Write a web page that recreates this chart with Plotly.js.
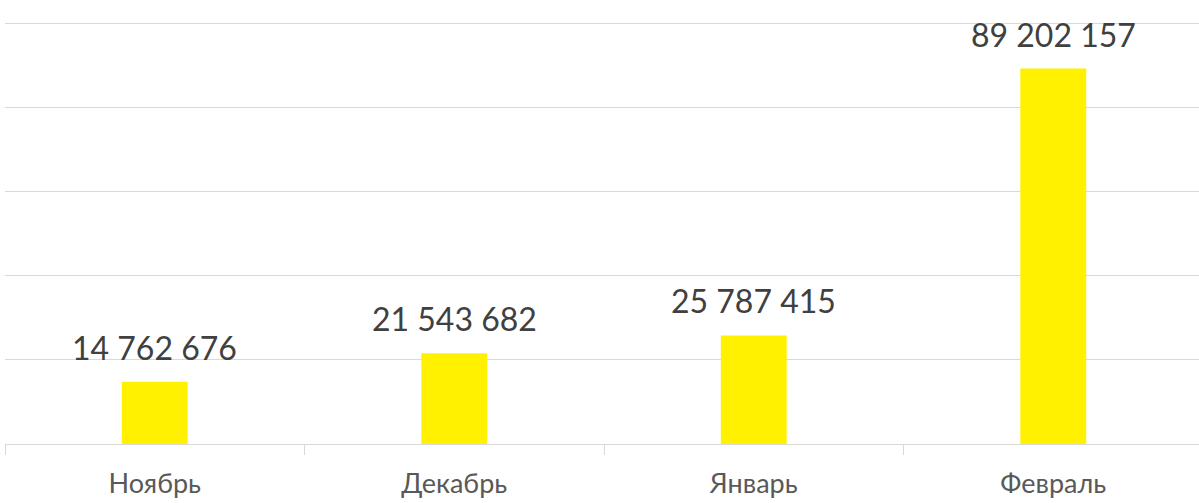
<!DOCTYPE html>
<html>
<head>
<meta charset="utf-8">
<script src="https://cdn.plot.ly/plotly-3.0.1.min.js"></script>
<style>
html, body { margin: 0; padding: 0; overflow: hidden; background: #fff; }
#chart { width: 1210px; height: 503px; }
</style>
</head>
<body>
<div id="chart"></div>
<script>
const months = ["Ноябрь", "Декабрь", "Январь", "Февраль"];
const values = [14762676, 21543682, 25787415, 89202157];
const valueLabels = ["14 762 676", "21 543 682", "25 787 415", "89 202 157"];

const trace = {
  type: "bar",
  x: months,
  y: values,
  marker: { color: "#FFF100" },
  hoverinfo: "none"
};

const annotations = months.map((m, i) => ({
  x: m,
  y: values[i],
  xref: "x",
  yref: "y",
  text: valueLabels[i],
  showarrow: false,
  yanchor: "bottom",
  yshift: 13,
  font: { family: "Lato, sans-serif", size: 32, color: "#404040" }
}));

const layout = {
  width: 1210,
  height: 503,
  margin: { l: 5, r: 7, t: 21, b: 59 },
  paper_bgcolor: "#ffffff",
  plot_bgcolor: "#ffffff",
  bargap: 0.78,
  showlegend: false,
  xaxis: {
    type: "category",
    range: [-0.5, 3.5],
    tickson: "boundaries",
    ticks: "outside",
    ticklen: 10,
    tickwidth: 1,
    tickcolor: "#d9d9d9",
    showline: true,
    linecolor: "#d9d9d9",
    linewidth: 1,
    showgrid: false,
    ticklabelstandoff: 16,
    tickfont: { family: "Lato, sans-serif", size: 27, color: "#595959" },
    fixedrange: true
  },
  yaxis: {
    range: [0, 100500000],
    dtick: 20000000,
    tick0: 0,
    showgrid: true,
    gridcolor: "#d9d9d9",
    gridwidth: 1,
    zeroline: false,
    showticklabels: false,
    ticks: "",
    fixedrange: true
  },
  annotations: annotations
};

Plotly.newPlot("chart", [trace], layout, { displayModeBar: false, staticPlot: true });
</script>
</body>
</html>
